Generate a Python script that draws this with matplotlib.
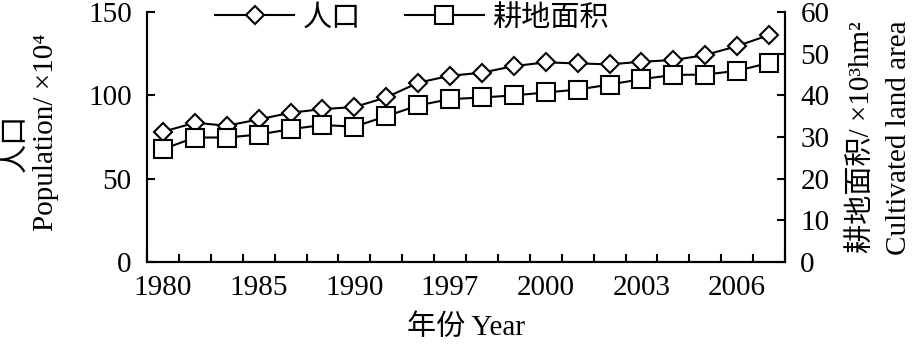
import numpy as np
import matplotlib
matplotlib.use('Agg')
import matplotlib.pyplot as plt

plt.rcParams['font.family'] = ['Liberation Serif', 'Noto Sans CJK SC']

# data
years = [1980, 1982, 1983, 1985, 1986, 1988, 1990, 1993, 1995, 1997,
         1998, 1999, 2000, 2001, 2002, 2003, 2004, 2005, 2006, 2007]
population = [78.2, 83.6, 81.8, 85.6, 89.6, 91.8, 93.0, 98.8, 107.6, 111.8,
              113.6, 117.6, 119.8, 119.2, 118.6, 120.2, 121.2, 124.2, 129.6, 136.2]
land_area = [27.1, 29.9, 29.9, 30.6, 31.9, 32.9, 32.5, 35.0, 37.6, 39.1,
             39.5, 40.0, 40.7, 41.4, 42.6, 43.9, 44.9, 45.0, 45.9, 47.8]
shown_years = [1980, 1985, 1990, 1997, 2000, 2003, 2006]

FS = 21

fig = plt.figure(figsize=(9.16, 3.44), dpi=100)
ax = fig.add_axes([0.1605, 0.238, 0.6965, 0.727])
ax2 = ax.twinx()

x = np.arange(len(years))
l1, = ax.plot(x, population, color='black', lw=1.5, marker='D', markersize=9.2,
              markerfacecolor='white', markeredgecolor='black', markeredgewidth=1.5,
              label='人口', zorder=3)
l2, = ax2.plot(x, land_area, color='black', lw=1.5, marker='s', markersize=12.4,
               markerfacecolor='white', markeredgecolor='black', markeredgewidth=1.5,
               label='耕地面积', zorder=3)

ax.set_xlim(-0.5, len(years) - 0.5)
ax.set_ylim(0, 150)
ax2.set_ylim(0, 60)
ax.set_yticks([0, 50, 100, 150])
ax2.set_yticks(np.arange(0, 61, 10))

# ticks between categories, labels every third year
ax.set_xticks(np.arange(len(years) + 1) - 0.5)
ax.set_xticklabels([])
lab_pos = [years.index(y) for y in shown_years]
ax.set_xticks(lab_pos, minor=True)
ax.set_xticklabels([str(y) for y in shown_years], minor=True, fontsize=FS)
ax.tick_params(axis='x', which='minor', length=0, pad=9)
ax.tick_params(axis='x', which='major', direction='in', length=6, width=1.5)
ax.tick_params(axis='y', direction='in', length=6, width=1.5, labelsize=FS, pad=11)
ax2.tick_params(axis='y', direction='in', length=6, width=1.5, labelsize=FS, pad=11)

for a in (ax, ax2):
    a.spines['top'].set_visible(False)
    for s in ('left', 'right', 'bottom'):
        a.spines[s].set_linewidth(1.5)

ax.set_xlabel('年份 Year', fontsize=FS, labelpad=10)

fig.text(0.017, 0.585, '人口', rotation=90, fontsize=FS, ha='center', va='center')
fig.text(0.050, 0.615, 'Population/ ×10⁴', rotation=90, fontsize=FS,
         ha='center', va='center')
fig.text(0.940, 0.60, '耕地面积/ ×10³hm²', rotation=90, fontsize=FS,
         ha='center', va='center')
fig.text(0.981, 0.60, 'Cultivated land area', rotation=90, fontsize=FS,
         ha='center', va='center')

fig.legend(handles=[l1, l2], loc='center', bbox_to_anchor=(0.45, 0.948), ncol=2,
           frameon=False, fontsize=FS, handlelength=2.7, handletextpad=0.3,
           columnspacing=1.5, borderpad=0)

fig.savefig('out.png', dpi=100)
